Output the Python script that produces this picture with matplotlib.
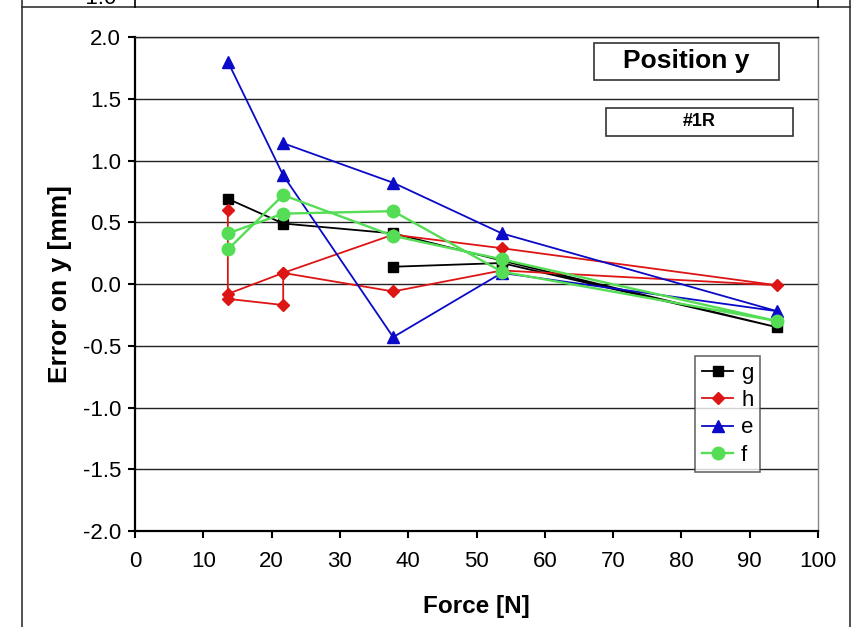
import matplotlib
matplotlib.use('Agg')
import matplotlib.pyplot as plt
from matplotlib.patches import Rectangle
from matplotlib.lines import Line2D

plt.rcParams['font.family'] = ['Liberation Sans', 'DejaVu Sans']

# measurement path for each series (force up then back down)
g_force = [13.6, 21.7, 37.8, 53.7, 94.0, 53.7, 37.8]
g_err = [0.69, 0.49, 0.41, 0.19, -0.35, 0.17, 0.14]

h_force = [13.6, 13.6, 21.7, 21.7, 37.8, 53.7, 94.0, 53.7, 37.8, 21.7, 13.6]
h_err = [0.60, -0.12, -0.17, 0.09, -0.06, 0.11, -0.01, 0.29, 0.40, 0.09, -0.08]

e_force = [13.6, 21.7, 37.8, 53.7, 94.0, 53.7, 37.8, 21.7]
e_err = [1.80, 0.88, -0.43, 0.09, -0.22, 0.41, 0.82, 1.14]

f_force = [13.6, 21.7, 37.8, 53.7, 94.0, 53.7, 37.8, 21.7, 13.6]
f_err = [0.28, 0.72, 0.39, 0.20, -0.30, 0.10, 0.59, 0.57, 0.41]

fig = plt.figure(figsize=(8.54, 6.27), dpi=100)
ax = fig.add_axes([0.158, 0.153, 0.800, 0.788])

ax.plot(g_force, g_err, color='black', marker='s', ms=6.5, lw=1.3, label='g')
ax.plot(h_force, h_err, color='#dd1515', marker='D', ms=6, lw=1.3, label='h')
ax.plot(e_force, e_err, color='#0a0ac8', marker='^', ms=9, lw=1.3, label='e')
ax.plot(f_force, f_err, color='#55dd55', marker='o', ms=9, lw=1.7, label='f')

ax.set_xlim(0, 100)
ax.set_ylim(-2.0, 2.0)
ax.set_xticks(range(0, 101, 10))
ax.set_yticks([-2.0, -1.5, -1.0, -0.5, 0.0, 0.5, 1.0, 1.5, 2.0])
ax.set_yticklabels(['%.1f' % v for v in ax.get_yticks()])
ax.yaxis.grid(True, color='#222222', lw=1.0)
ax.set_axisbelow(True)
ax.tick_params(axis='both', labelsize=16, direction='out', length=5, width=1.5,
               color='black')
ax.tick_params(axis='x', pad=9)
ax.tick_params(axis='y', pad=5)
ax.spines['left'].set_linewidth(1.6)
ax.spines['bottom'].set_linewidth(1.6)
ax.spines['top'].set_color('#222222')
ax.spines['top'].set_linewidth(1.0)
ax.spines['right'].set_color('#888888')
ax.spines['right'].set_linewidth(1.0)

ax.set_xlabel('Force [N]', fontsize=17.5, fontweight='bold', labelpad=17)
ax.set_ylabel('Error on y [mm]', fontsize=19, fontweight='bold', labelpad=8)

leg = ax.legend(loc='lower right', bbox_to_anchor=(0.915, 0.119), fontsize=16,
                frameon=True, fancybox=False, handlelength=1.4, handletextpad=0.35,
                labelspacing=0.28, borderpad=0.3, borderaxespad=0)
leg.get_frame().set_edgecolor('#444444')
leg.get_frame().set_linewidth(1.2)

# title boxes
ax.add_patch(Rectangle((0.672, 0.913), 0.271, 0.075, transform=ax.transAxes,
                       facecolor='white', edgecolor='#333333', lw=1.2, zorder=5))
ax.text(0.807, 0.951, 'Position y', transform=ax.transAxes, ha='center',
        va='center', fontsize=19, fontweight='bold', zorder=6)
ax.add_patch(Rectangle((0.690, 0.800), 0.273, 0.056, transform=ax.transAxes,
                       facecolor='white', edgecolor='#333333', lw=1.2, zorder=5))
ax.text(0.826, 0.829, '#1R', transform=ax.transAxes, ha='center',
        va='center', fontsize=13, fontweight='bold', zorder=6)

# outer frame and the cut-off chart above
W, H = 854.0, 627.0
fig.add_artist(Rectangle((22 / W, -0.01), (850 - 22) / W, 1 - 7 / H + 0.01,
                         transform=fig.transFigure, fill=False,
                         edgecolor='#333333', lw=1.2))
for xp in (135, 818):
    fig.add_artist(Line2D([xp / W, xp / W], [1 - 7 / H, 1.0],
                          transform=fig.transFigure, color='black', lw=1.2))
fig.add_artist(Line2D([22 / W, 22 / W], [1 - 7 / H, 1.0],
                      transform=fig.transFigure, color='#333333', lw=1.2))
fig.add_artist(Line2D([850 / W, 850 / W], [1 - 7 / H, 1.0],
                      transform=fig.transFigure, color='#333333', lw=1.2))
fig.text(116 / W, 1.0 + 2 / H, '-1.0', ha='right', va='center', fontsize=16)

fig.savefig('out.png', dpi=100)
